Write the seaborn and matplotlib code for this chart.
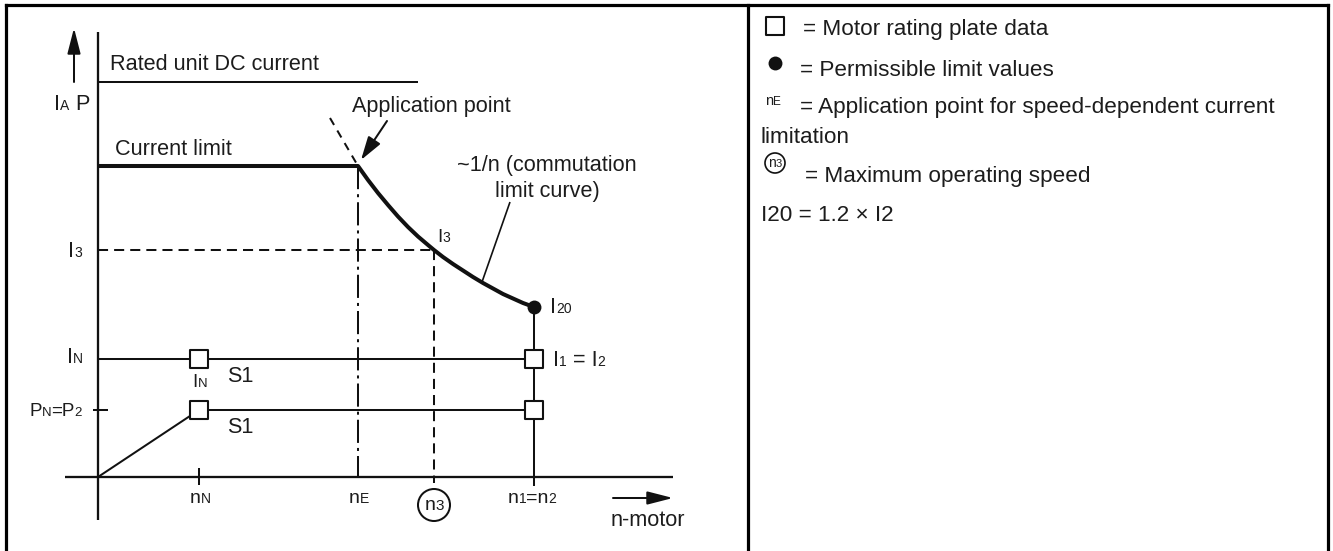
import matplotlib
matplotlib.use("Agg")
import matplotlib.pyplot as plt
from matplotlib.lines import Line2D
from matplotlib.patches import Circle, FancyArrowPatch
from matplotlib.transforms import offset_copy
import seaborn as sns

# ---- diagram values (speed n on x, current / power on y) ----
speed_N = 2.02      # rated speed nN
speed_E = 5.20      # application point nE
speed_3 = 6.72      # maximum operating speed n3
speed_12 = 8.72     # n1 = n2

I_rated_unit = 7.90  # rated unit DC current
I_limit = 6.22       # current limit
I_3 = 4.54
I_20 = 3.40
I_N = 2.36
P_N = 1.34

# commutation limit curve (~1/n), read point by point
curve_n = [5.20, 5.40, 5.60, 5.80, 6.00, 6.20, 6.40, 6.60, 6.72, 6.90,
           7.10, 7.30, 7.50, 7.70, 7.90, 8.10, 8.30, 8.50, 8.72]
curve_I = [6.22, 5.94, 5.68, 5.44, 5.21, 5.00, 4.81, 4.64, 4.54, 4.40,
           4.26, 4.13, 4.00, 3.88, 3.77, 3.66, 3.57, 3.48, 3.40]

rating_n = [speed_N, speed_N, speed_12, speed_12]
rating_v = [I_N, P_N, I_N, P_N]

legend_lines = [
    "= Motor rating plate data",
    "= Permissible limit values",
    "= Application point for speed-dependent current",
    "limitation",
    "= Maximum operating speed",
    "I20 = 1.2 \u00d7 I2",
]

sns.set_style("white")
plt.rcParams["font.family"] = ["Liberation Sans", "DejaVu Sans"]

W, H = 1333, 551
fig = plt.figure(figsize=(W / 100, H / 100), dpi=100)
renderer = fig.canvas.get_renderer()

INK = "#111111"
TXT = "#1c1c1c"
BIG = 15.6
SUB = 10.0

# left panel: 50 px per unit, origin at the axes cross
ax = fig.add_axes([6 / W, 0, (748 - 6) / W, (551 - 5) / H])
ax.set_xlim(-1.84, 13.0)
ax.set_ylim(-1.48, 9.44)
ax.axis("off")

# right panel in its own pixel units
axr = fig.add_axes([748 / W, 0, (1328 - 748) / W, (551 - 5) / H])
axr.set_xlim(748, 1328)
axr.set_ylim(551, 5)
axr.axis("off")

# table border
for (x0, y0, x1, y1) in [(6, 5, 1328, 5), (6, 5, 6, 551), (748, 5, 748, 551), (1328, 5, 1328, 551)]:
    fig.add_artist(Line2D([x0 / W, x1 / W], [1 - y0 / H, 1 - y1 / H], color="black", lw=2.3,
                          solid_capstyle="projecting"))


def rich(a, x, y, parts, ha="left", color=TXT):
    """Draw text segments of mixed size on one baseline."""
    items = []
    for s, size in parts:
        t = a.text(x, y, s, fontsize=size, va="baseline", ha="left", color=color)
        items.append((t, t.get_window_extent(renderer).width))
    total = sum(w for _, w in items)
    off = {"left": 0, "center": -total / 2, "right": -total}[ha]
    for t, w in items:
        t.set_transform(offset_copy(a.transData, fig=fig, x=off, y=0, units="dots"))
        off += w


def seg(a, xs, ys, lw=1.45, **kw):
    a.plot(xs, ys, color=INK, lw=lw, solid_capstyle="butt", **kw)


def arrow(a, p0, p1, hl, hw, lw=1.45):
    a.add_patch(FancyArrowPatch(p0, p1, arrowstyle=f"-|>,head_length={hl},head_width={hw}",
                                mutation_scale=20, color=INK, lw=lw, shrinkA=0, shrinkB=0))


# axes cross
seg(ax, [0, 0], [-0.86, 8.9], lw=1.65)
seg(ax, [-0.66, 11.5], [0, 0], lw=1.65)

# rated unit DC current
seg(ax, [0, 6.4], [I_rated_unit, I_rated_unit])

# current limit and commutation limit curve
seg(ax, [0, speed_E], [I_limit, I_limit], lw=2.9)
sns.lineplot(x=curve_n, y=curve_I, ax=ax, color=INK, lw=2.9, sort=False, estimator=None)
seg(ax, [4.64, speed_E], [7.18, I_limit], dashes=(4, 3.2))

# guide lines
seg(ax, [speed_E, speed_E], [I_limit, 0], dashes=(11.5, 2.5, 1.5, 2.5))
seg(ax, [0, speed_3], [I_3, I_3], dashes=(5, 3))
seg(ax, [speed_3, speed_3], [I_3, -0.12], dashes=(5, 3))
seg(ax, [speed_12, speed_12], [I_20, -0.18])

# S1 operating lines
seg(ax, [0, speed_12], [I_N, I_N])
seg(ax, [speed_N, speed_12], [P_N, P_N])
seg(ax, [0, speed_N], [0, P_N])

# ticks
seg(ax, [speed_N, speed_N], [-0.16, 0.18])
seg(ax, [-0.1, 0.2], [P_N, P_N])

# markers
sns.scatterplot(x=rating_n, y=rating_v, ax=ax, marker="s", s=150, facecolor="white",
                edgecolor=INK, linewidth=1.5, zorder=5)
sns.scatterplot(x=[speed_12], y=[I_20], ax=ax, marker="o", s=100, color=INK,
                edgecolor=INK, linewidth=0, zorder=6)

# arrows
arrow(ax, (-0.48, 7.9), (-0.48, 8.98), 0.78, 0.2)
arrow(ax, (10.3, -0.42), (11.5, -0.42), 0.78, 0.2)
arrow(ax, (5.78, 7.12), (5.26, 6.34), 0.72, 0.22)
seg(ax, [8.24, 7.68], [5.5, 3.9], lw=1.2)

# texts in the diagram
rich(ax, 0.24, 8.14, [("Rated unit DC current", BIG)])
rich(ax, 0.34, 6.44, [("Current limit", BIG)])
rich(ax, 5.08, 7.30, [("Application point", BIG)])
rich(ax, 8.98, 6.11, [("~1/n (commutation", BIG)], ha="center")
rich(ax, 8.98, 5.61, [("limit curve)", BIG)], ha="center")
rich(ax, 6.78, 4.71, [("I", 13.5), ("3", SUB)])
rich(ax, 9.04, 3.28, [("I", BIG), ("20", SUB)])
rich(ax, 9.10, 2.21, [("I", BIG), ("1", SUB), (" = I", BIG), ("2", SUB)])
rich(ax, 2.58, 1.90, [("S1", BIG)])
rich(ax, 2.04, 1.80, [("I", 13.5), ("N", 9.5)], ha="center")
rich(ax, 2.58, 0.88, [("S1", BIG)])

rich(ax, -0.16, 7.34, [("I", BIG), ("A", SUB), (" P", BIG)], ha="right")
rich(ax, -0.32, 4.40, [("I", BIG), ("3", SUB)], ha="right")
rich(ax, -0.30, 2.28, [("I", BIG), ("N", SUB)], ha="right")
rich(ax, -0.32, 1.21, [("P", 13.5), ("N", 9.5), ("=P", 13.5), ("2", 9.5)], ha="right")

rich(ax, 2.04, -0.52, [("n", 14), ("N", SUB)], ha="center")
rich(ax, 5.22, -0.52, [("n", 14), ("E", SUB)], ha="center")
rich(ax, 8.68, -0.52, [("n", 14), ("1", SUB), ("=n", 14), ("2", SUB)], ha="center")
ax.add_patch(Circle((speed_3, -0.56), 0.32, fill=False, ec=INK, lw=1.45))
rich(ax, speed_3, -0.66, [("n", 14), ("3", 11)], ha="center")
rich(ax, 11.0, -0.99, [("n-motor", BIG)], ha="center")

# right panel: key
RS = 16.2
axr.scatter([775], [26], marker="s", s=150, facecolor="white", edgecolor=INK, linewidth=1.5)
rich(axr, 803, 35, [(legend_lines[0], RS)])
axr.scatter([775], [63], marker="o", s=100, color=INK, linewidth=0)
rich(axr, 800, 76, [(legend_lines[1], RS)])
rich(axr, 765, 105, [("n", 10.5), ("E", 8.5)])
rich(axr, 800, 113, [(legend_lines[2], RS)])
rich(axr, 761, 143, [(legend_lines[3], RS)])
axr.add_patch(Circle((775, 163), 10, fill=False, ec=INK, lw=1.2))
rich(axr, 775, 167, [("n", 10), ("3", 8)], ha="center")
rich(axr, 805, 182, [(legend_lines[4], RS)])
rich(axr, 761, 221, [(legend_lines[5], RS)])

fig.savefig("out.png", dpi=100, facecolor="white")
